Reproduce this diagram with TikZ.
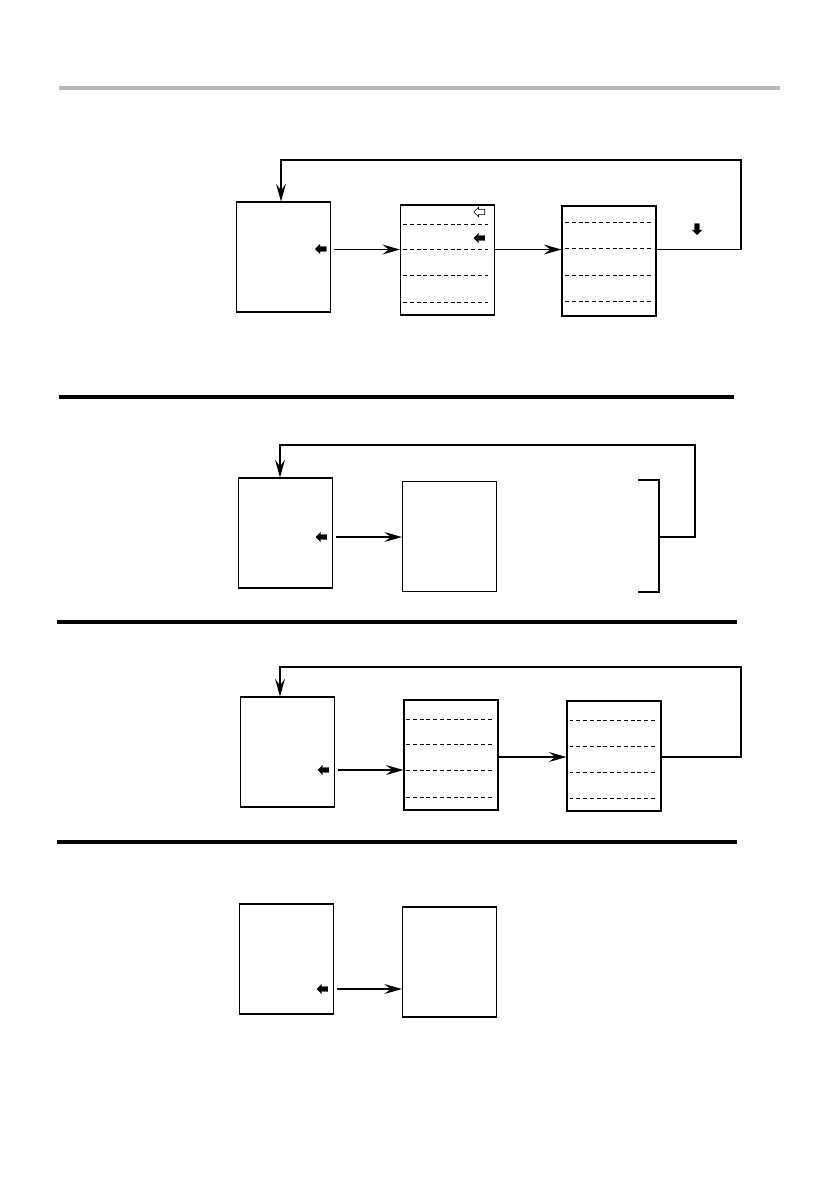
\documentclass[tikz,border=0pt]{standalone}
\usetikzlibrary{arrows.meta,positioning,shapes.arrows}
\newlength{\pxu}\setlength{\pxu}{0.03cm}
\begin{document}
\begin{tikzpicture}[x=0.03cm, y=-0.03cm,
  pane/.style={draw, line width=1pt, minimum width=94\pxu, minimum height=110\pxu, inner sep=0pt},
  divider/.style={line width=0.8pt, dash pattern=on 3.4pt off 2.4pt},
  flow/.style={line width=1pt, -{Stealth[length=15pt, width=8.5pt, inset=5.5pt]}},
  rule/.style={line width=2.6pt},
  pointer/.style={single arrow, fill=black, draw=black, line width=0.3pt, inner sep=2.3\pxu, single arrow head extend=2.2\pxu, minimum height=11\pxu, shape border rotate=180},
  hollow/.style={pointer, fill=white, line width=0.5pt}]
  \useasboundingbox (0,0) rectangle (839,1191);
  % rules between the parts
  \draw[line width=3.4pt, black!28] (59,88) -- (780,88);
  \draw[rule] (59,397) -- (734,397);
  \draw[rule] (57,622) -- (737,622);
  \draw[rule] (57,842) -- (737,842);

  % part 1
  \node[pane] (a1) at (283.5,257) {};
  \node[pane] (b1) at (447.5,260) {};
  \node[pane] (c1) at (609,261) {};
  \foreach \y in {224,249,275,302} \draw[divider] (403,\y) -- (488,\y);
  \foreach \y in {222.5,248.5,275,301.5} \draw[divider] (565,\y) -- (651,\y);
  \node[pointer] (p1) at (322,249) {};
  \node[hollow] (h1) at (480.5,212) {};
  \node[pointer] (p2) at (480.5,238) {};
  \node[pointer, shape border rotate=270] (p3) at (697,228) {};
  \coordinate (m1) at (0,249.5);
  \coordinate (k1) at (741,160);
  \coordinate (j1) at (281,160);
  \draw[flow, shorten <=2.5\pxu] (a1.east |- m1) -- (b1.west |- m1);
  \draw[flow] (b1.east |- m1) -- (c1.west |- m1);
  \draw[flow] (c1.east |- m1) -| (k1) -- (j1) -- (a1.north -| j1);

  % part 2
  \node[pane] (a2) at (285.5,533) {};
  \node[pane] (b2) at (449.5,536.5) {};
  \node[pointer] (p4) at (322.5,537) {};
  \coordinate (m2) at (0,537);
  \coordinate (u2) at (659,480);
  \coordinate (d2) at (659,592);
  \coordinate (k2) at (695,445);
  \coordinate (j2) at (280,445);
  \draw[line width=1pt] ([xshift=-21\pxu]u2) -- (u2) -- (d2) -- ([xshift=-21\pxu]d2);
  \draw[flow, shorten <=2.5\pxu] (a2.east |- m2) -- (b2.west |- m2);
  \draw[flow] (u2 |- m2) -| (k2) -- (j2) -- (a2.north -| j2);

  % part 3
  \node[pane] (a3) at (287.5,752) {};
  \node[pane] (b3) at (451,755) {};
  \node[pane] (c3) at (614,756) {};
  \foreach \y in {719,744,770.5,797} \draw[divider] (406,\y) -- (492,\y);
  \foreach \y in {720,746,772,798} \draw[divider] (569.5,\y) -- (655,\y);
  \node[pointer] (p5) at (324.5,770) {};
  \coordinate (m3) at (0,770);
  \coordinate (n3) at (0,757);
  \coordinate (k3) at (741,667);
  \coordinate (j3) at (280,667);
  \draw[flow, shorten <=2.5\pxu] (a3.east |- m3) -- (b3.west |- m3);
  \draw[flow] (b3.east |- n3) -- (c3.west |- n3);
  \draw[flow] (c3.east |- n3) -| (k3) -- (j3) -- (a3.north -| j3);

  % part 4
  \node[pane] (a4) at (286.5,959) {};
  \node[pane] (b4) at (449.5,962) {};
  \node[pointer] (p6) at (323.5,989) {};
  \coordinate (m4) at (0,989);
  \draw[flow, shorten <=2.5\pxu] (a4.east |- m4) -- (b4.west |- m4);
\end{tikzpicture}
\end{document}
